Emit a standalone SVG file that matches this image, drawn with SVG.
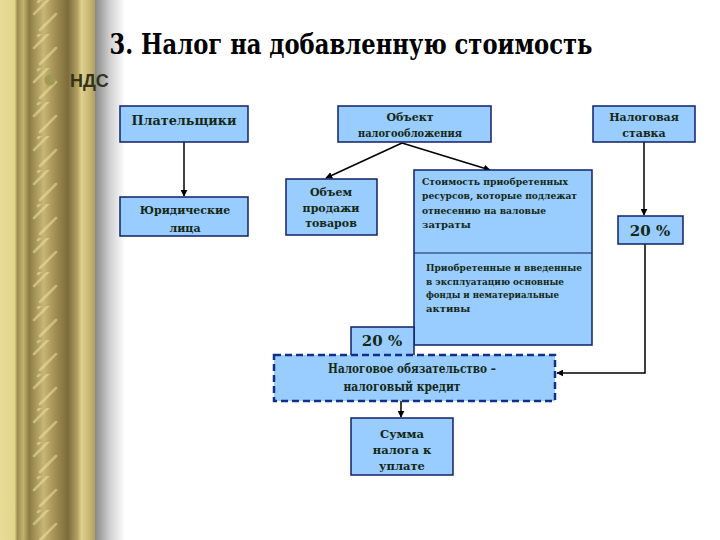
<svg xmlns="http://www.w3.org/2000/svg" width="720" height="540" viewBox="0 0 720 540">
<defs>
<linearGradient id="gold" x1="0" y1="0" x2="97" y2="0" gradientUnits="userSpaceOnUse">
<stop offset="0" stop-color="#e8dc98"/>
<stop offset="0.15" stop-color="#e2d48c"/>
<stop offset="0.18" stop-color="#9c8c50"/>
<stop offset="0.24" stop-color="#c4b470"/>
<stop offset="0.30" stop-color="#8c7c44"/>
<stop offset="0.45" stop-color="#c8b676"/>
<stop offset="0.55" stop-color="#a89456"/>
<stop offset="0.70" stop-color="#7c6c3c"/>
<stop offset="0.80" stop-color="#b4a262"/>
<stop offset="0.84" stop-color="#e0d090"/>
<stop offset="0.92" stop-color="#c8b874"/>
<stop offset="1" stop-color="#a89858"/>
</linearGradient>
<linearGradient id="shadow" x1="95" y1="0" x2="125" y2="0" gradientUnits="userSpaceOnUse">
<stop offset="0" stop-color="#888888"/>
<stop offset="0.5" stop-color="#d0d0d0"/>
<stop offset="1" stop-color="#ffffff"/>
</linearGradient>
<pattern id="stripes" x="0" y="0" width="60" height="34" patternUnits="userSpaceOnUse">
<path d="M38 2 L56 -16 M34 14 L52 -4 M40 30 L56 14" stroke="#f2e4a8" stroke-width="2.5" stroke-linecap="round" opacity="0.5"/>
</pattern>
<marker id="arr" viewBox="0 0 10 10" refX="9" refY="5" markerWidth="7" markerHeight="7" markerUnits="userSpaceOnUse" orient="auto">
<path d="M0 0 L10 5 L0 10 z" fill="#000"/>
</marker>
</defs>
<style>
.box{fill:#99ccff;stroke:#10206a;stroke-width:1.5}
.t{font-family:"DejaVu Serif","Liberation Serif",serif;font-weight:bold;fill:#142814;text-anchor:middle}
.s{font-family:"DejaVu Serif","Liberation Serif",serif;font-weight:bold;fill:#142814;font-size:10px}
.c{stroke:#000;stroke-width:1.5;fill:none}
</style>
<rect x="0" y="0" width="720" height="540" fill="#ffffff"/>
<g id="decor">
<rect x="0" y="0" width="97" height="540" fill="url(#gold)"/>
<rect x="26" y="0" width="52" height="540" fill="url(#stripes)"/>
<rect x="95" y="0" width="30" height="540" fill="url(#shadow)"/>
</g>
<g id="title">
<text x="351" y="54" style="font-family:'DejaVu Serif','Liberation Serif',serif;font-weight:bold" font-size="27" fill="#000" text-anchor="middle" textLength="483" lengthAdjust="spacingAndGlyphs">3. Налог на добавленную стоимость</text>
<circle cx="50" cy="80" r="5.5" fill="#a29a52"/>
<text x="70" y="87" style="font-family:'Liberation Sans',Arial,sans-serif;font-weight:bold" font-size="18" fill="#33331a">НДС</text>
</g>
<g id="connectors">
<line class="c" x1="184" y1="142" x2="184" y2="196" marker-end="url(#arr)"/>
<line class="c" x1="402" y1="143" x2="326" y2="178" stroke-width="2" marker-end="url(#arr)"/>
<line class="c" x1="402" y1="143" x2="490" y2="170" stroke-width="2" marker-end="url(#arr)"/>
<line class="c" x1="644" y1="142" x2="644" y2="215" stroke-width="2.5" marker-end="url(#arr)"/>
<polyline class="c" points="645,244 645,373 557,373" marker-end="url(#arr)"/>
<line class="c" x1="401" y1="401" x2="401" y2="417" marker-end="url(#arr)"/>
</g>
<g id="platelshchiki">
<rect class="box" x="120" y="106" width="128" height="36"/>
<text class="t" x="184" y="125" font-size="13" textLength="105" lengthAdjust="spacingAndGlyphs">Плательщики</text>
</g>
<g id="yurlitsa">
<rect class="box" x="120" y="197" width="128" height="39"/>
<text class="t" x="185" y="214" font-size="11">Юридические</text>
<text class="t" x="185" y="232" font-size="11">лица</text>
</g>
<g id="obekt">
<rect class="box" x="338" y="106" width="153" height="36"/>
<text class="t" x="410" y="121" font-size="11">Объект</text>
<text class="t" x="410" y="137" font-size="11" textLength="104" lengthAdjust="spacingAndGlyphs">налогообложения</text>
</g>
<g id="stavka">
<rect class="box" x="593" y="106" width="102" height="36"/>
<text class="t" x="644" y="121" font-size="11">Налоговая</text>
<text class="t" x="644" y="137" font-size="11">ставка</text>
</g>
<g id="obem">
<rect class="box" x="286" y="179" width="91" height="56"/>
<text class="t" x="331" y="196" font-size="11">Объем</text>
<text class="t" x="331" y="211.5" font-size="11">продажи</text>
<text class="t" x="331" y="227" font-size="11">товаров</text>
</g>
<g id="stoimost">
<rect class="box" x="414" y="170" width="178" height="175"/>
<line x1="414" y1="253" x2="592" y2="253" stroke="#10206a" stroke-width="1.2"/>
<text class="s" x="422" y="185" textLength="146" lengthAdjust="spacingAndGlyphs">Стоимость приобретенных</text>
<text class="s" x="422" y="199" textLength="155" lengthAdjust="spacingAndGlyphs">ресурсов, которые подлежат</text>
<text class="s" x="422" y="214" textLength="124" lengthAdjust="spacingAndGlyphs">отнесению на валовые</text>
<text class="s" x="422" y="228">затраты</text>
<text class="s" x="426" y="271" textLength="156" lengthAdjust="spacingAndGlyphs">Приобретенные и введенные</text>
<text class="s" x="426" y="285" textLength="138" lengthAdjust="spacingAndGlyphs">в эксплуатацию основные</text>
<text class="s" x="426" y="298" textLength="133" lengthAdjust="spacingAndGlyphs">фонды и нематериальные</text>
<text class="s" x="426" y="312">активы</text>
</g>
<g id="pct-right">
<rect class="box" x="618" y="216" width="65" height="28"/>
<text class="t" x="650" y="236" font-size="15">20 %</text>
</g>
<g id="pct-left">
<rect class="box" x="351" y="327" width="63" height="30"/>
<text class="t" x="382" y="346" font-size="15">20 %</text>
</g>
<g id="obyazatelstvo">
<rect x="274" y="355" width="281" height="46" fill="#99ccff" stroke="#10308a" stroke-width="2.5" stroke-dasharray="7 4"/>
<text class="t" x="412" y="373" font-size="12" textLength="168" lengthAdjust="spacingAndGlyphs">Налоговое обязательство –</text>
<text class="t" x="402" y="391" font-size="12" textLength="117" lengthAdjust="spacingAndGlyphs">налоговый кредит</text>
</g>
<g id="summa">
<rect class="box" x="351" y="418" width="102" height="57"/>
<text class="t" x="402" y="438" font-size="11.5">Сумма</text>
<text class="t" x="402" y="454" font-size="11.5">налога к</text>
<text class="t" x="402" y="470" font-size="11.5">уплате</text>
</g>
</svg>
